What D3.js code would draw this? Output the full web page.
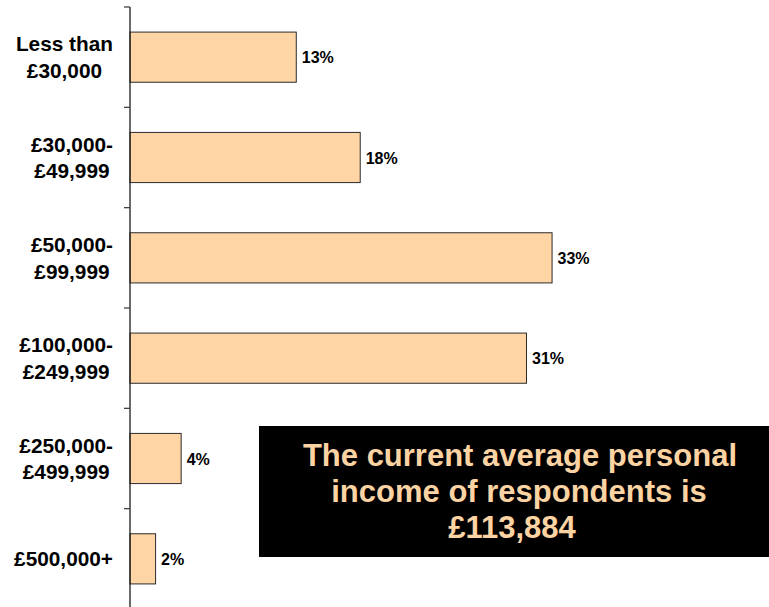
<!DOCTYPE html>
<html>
<head>
<meta charset="utf-8">
<script src="https://cdn.jsdelivr.net/npm/d3@7"></script>
<style>
  html, body { margin: 0; padding: 0; background: #ffffff; }
  svg { display: block; font-family: "Liberation Sans", Arial, Helvetica, sans-serif; }
</style>
</head>
<body>
<svg id="chart" width="769" height="607"></svg>
<script>
// Income bands (each label split into its display lines) and share of respondents
const categories = [
  ["Less than", "£30,000"],
  ["£30,000-", "£49,999"],
  ["£50,000-", "£99,999"],
  ["£100,000-", "£249,999"],
  ["£250,000-", "£499,999"],
  ["£500,000+"]
];
const shares = [13, 18, 33, 31, 4, 2];
const valueLabels = ["13%", "18%", "33%", "31%", "4%", "2%"];
const noteLines = ["The current average personal", "income of respondents is", "£113,884"];

const W = 769, H = 607;
const axisX = 130;
const svg = d3.select("#chart");

const keys = categories.map(c => c.join(" "));

const y = d3.scaleBand()
  .domain(keys)
  .range([7, 609])
  .paddingInner(0.5)
  .paddingOuter(0.25);

const x = d3.scaleLinear()
  .domain([0, 50])
  .range([axisX, W + 0.5]);

// Bars
svg.append("g")
  .selectAll("rect")
  .data(shares)
  .join("rect")
  .attr("x", x(0))
  .attr("y", (d, i) => y(keys[i]))
  .attr("width", d => x(d) - x(0))
  .attr("height", y.bandwidth())
  .attr("fill", "#FFD5A6")
  .attr("stroke", "#2b2b2b")
  .attr("stroke-width", 1);

// Value labels at the end of each bar
svg.append("g")
  .selectAll("text")
  .data(shares)
  .join("text")
  .attr("x", d => x(d) + 5.5)
  .attr("y", (d, i) => y(keys[i]) + y.bandwidth() / 2 + 6)
  .attr("font-size", 16)
  .attr("font-weight", "bold")
  .attr("fill", "#000")
  .text((d, i) => valueLabels[i]);

// Vertical axis line with ticks at the band boundaries
const step = y.step();
const gap = step - y.bandwidth();
const tickYs = keys.map(k => y(k) - gap / 2).concat([y(keys[keys.length - 1]) + y.bandwidth() + gap / 2]);

const axis = svg.append("g");
axis.append("line")
  .attr("x1", axisX).attr("x2", axisX)
  .attr("y1", tickYs[0]).attr("y2", H)
  .attr("stroke", "#1a1a1a").attr("stroke-width", 1.3);
axis.selectAll("line.tick")
  .data(tickYs)
  .join("line")
  .attr("class", "tick")
  .attr("x1", axisX - 6).attr("x2", axisX)
  .attr("y1", d => d).attr("y2", d => d)
  .attr("stroke", "#444").attr("stroke-width", 1.3);

// Category labels: lines centred on each other, block right-aligned to the axis
const labelRight = 113;
const lineH = 26.7;
const catG = svg.append("g");
categories.forEach((lines, i) => {
  const cy = y(keys[i]) + y.bandwidth() / 2;
  const t = catG.append("text")
    .attr("font-size", 20.8)
    .attr("font-weight", "bold")
    .attr("fill", "#000")
    .attr("text-anchor", "middle");
  const spans = lines.map((ln, j) => t.append("tspan")
    .attr("y", cy + 7.5 + (j - (lines.length - 1) / 2) * lineH)
    .text(ln));
  const maxW = d3.max(spans, s => s.node().getComputedTextLength());
  spans.forEach(s => s.attr("x", labelRight - maxW / 2));
});

// Callout box with the average income
const box = svg.append("g");
box.append("rect")
  .attr("x", 259).attr("y", 426)
  .attr("width", W - 259).attr("height", 131)
  .attr("fill", "#000");
const noteX = [520, 519, 512];
box.selectAll("text")
  .data(noteLines)
  .join("text")
  .attr("x", (d, i) => noteX[i])
  .attr("y", (d, i) => 465.5 + i * 36.3)
  .attr("text-anchor", "middle")
  .attr("font-size", 31)
  .attr("font-weight", "bold")
  .attr("fill", "#FCD3A3")
  .text(d => d);
</script>
</body>
</html>
